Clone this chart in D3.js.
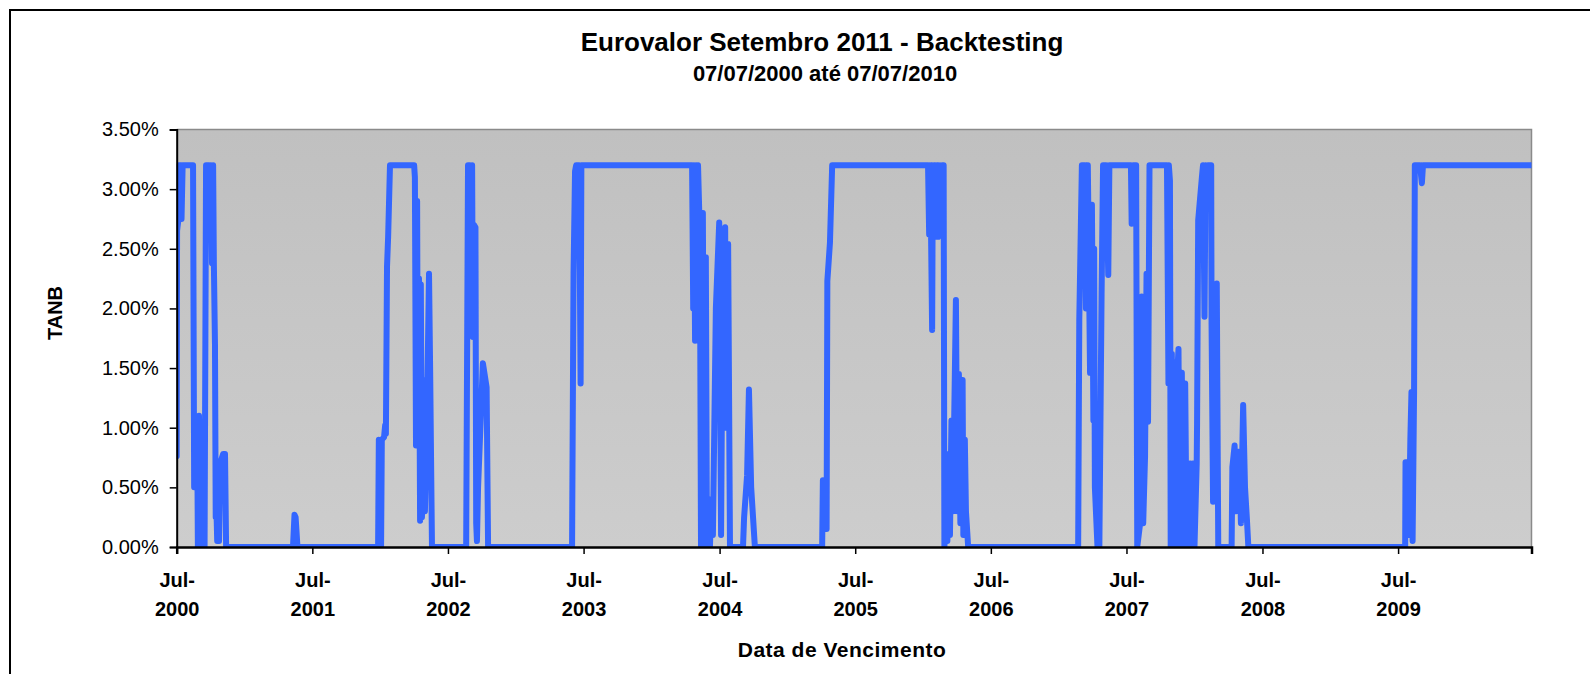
<!DOCTYPE html>
<html>
<head>
<meta charset="utf-8">
<script src="https://cdn.jsdelivr.net/npm/d3@7"></script>
<style>
  body { margin: 0; background: #fff; }
  text { font-family: "Liberation Sans", Arial, sans-serif; }
</style>
</head>
<body>
<svg id="chart" width="1590" height="674"></svg>
<script>
const title = "Eurovalor Setembro 2011 - Backtesting";
const subtitle = "07/07/2000 até 07/07/2010";

// x domain of the maturity axis
const startDate = "2000-07-07";
const endDate = "2010-07-01";

const tickYears = [2000, 2001, 2002, 2003, 2004, 2005, 2006, 2007, 2008, 2009];
const yTicks = [0, 0.5, 1, 1.5, 2, 2.5, 3, 3.5];

// TANB (%) by maturity date
const dates = [
  "2000-07-07","2000-07-08","2000-07-11","2000-07-13","2000-07-19","2000-07-20","2000-07-23","2000-08-20",
  "2000-08-23","2000-08-25","2000-08-28","2000-08-31","2000-09-02","2000-09-05","2000-09-08","2000-09-10",
  "2000-09-20","2000-09-24","2000-10-02","2000-10-05","2000-10-07","2000-10-10","2000-10-13","2000-10-15",
  "2000-10-18","2000-10-20","2000-10-22","2000-10-24","2000-10-26","2000-10-29","2000-11-01","2000-11-09",
  "2000-11-14","2000-11-17",
  "2001-05-16","2001-05-20","2001-05-23","2001-05-28",
  "2001-12-31","2002-01-02","2002-01-05","2002-01-08","2002-01-10","2002-01-16","2002-01-19","2002-01-21",
  "2002-01-24","2002-01-27","2002-02-01","2002-04-07","2002-04-09","2002-04-12","2002-04-15","2002-04-17",
  "2002-04-20","2002-04-23","2002-04-25","2002-04-28","2002-05-04","2002-05-06","2002-05-12","2002-05-17",
  "2002-05-20","2002-05-25",
  "2002-08-25","2002-08-30","2002-09-04","2002-09-07","2002-09-10","2002-09-12","2002-09-15","2002-09-19",
  "2002-09-21","2002-09-23","2002-09-26","2002-10-09","2002-10-19","2002-10-23",
  "2003-06-06","2003-06-10","2003-06-14","2003-06-17","2003-06-25","2003-06-29","2003-07-01",
  "2004-04-24","2004-04-27","2004-04-29","2004-05-02","2004-05-05","2004-05-07","2004-05-10","2004-05-15",
  "2004-05-18","2004-05-23","2004-05-26","2004-05-31","2004-06-03","2004-06-11","2004-06-15","2004-06-19",
  "2004-06-27","2004-07-06","2004-07-11","2004-07-16","2004-07-22","2004-07-24","2004-07-30","2004-08-04",
  "2004-09-08","2004-09-11","2004-09-19","2004-09-24","2004-09-30","2004-10-10",
  "2005-04-09","2005-04-11","2005-04-18","2005-04-21","2005-04-23","2005-04-30","2005-05-06",
  "2006-01-19","2006-01-22","2006-01-24","2006-01-27","2006-01-30","2006-02-01","2006-02-07","2006-02-09",
  "2006-02-15","2006-02-17","2006-02-23","2006-02-26","2006-03-02","2006-03-04","2006-03-10","2006-03-12",
  "2006-03-15","2006-03-19","2006-03-23","2006-03-27","2006-03-30","2006-04-04","2006-04-08","2006-04-12",
  "2006-04-16","2006-04-22","2006-04-24","2006-04-28","2006-05-01","2006-05-07",
  "2007-02-27","2007-03-02","2007-03-09","2007-03-17","2007-03-20","2007-03-25","2007-03-31","2007-04-05",
  "2007-04-09","2007-04-11","2007-04-13","2007-04-20","2007-04-25","2007-05-01","2007-05-05","2007-05-13",
  "2007-05-19","2007-05-22","2007-07-19","2007-07-21","2007-07-25","2007-08-02","2007-08-05","2007-08-12",
  "2007-08-17","2007-08-21","2007-08-26","2007-08-30","2007-09-03","2007-09-07","2007-10-24","2007-10-28",
  "2007-10-29","2007-11-01","2007-11-03","2007-11-06","2007-11-09","2007-11-13","2007-11-16","2007-11-20",
  "2007-11-24","2007-11-27","2007-12-03","2007-12-06","2007-12-12","2007-12-16","2007-12-20","2007-12-25",
  "2007-12-29","2008-01-02","2008-01-06","2008-01-12","2008-01-13","2008-01-16","2008-01-26","2008-01-29",
  "2008-02-02","2008-02-05","2008-02-08","2008-02-11","2008-02-20","2008-02-21","2008-02-25","2008-03-01",
  "2008-03-06","2008-03-10",
  "2008-04-15","2008-04-17","2008-04-23","2008-04-27","2008-05-01","2008-05-06","2008-05-10","2008-05-16",
  "2008-05-21","2008-05-26","2008-05-30",
  "2009-07-26","2009-07-27","2009-08-03","2009-08-05","2009-08-09","2009-08-12","2009-08-15","2009-08-19",
  "2009-08-21","2009-09-04","2009-09-09","2009-09-12","2010-07-01"
];
const tanb = [
  0.76, 2.65, 2.73, 3.2, 3.2, 2.75, 3.2, 3.2,
  0.5, 1.09, 0.5, 1.05, 0, 1.1, 0.45, 0,
  0, 3.2, 3.2, 2.9, 3.2, 2.38, 3.2, 2.38,
  1.7, 0.25, 0.31, 0.05, 0.3, 0.05, 0.7, 0.78,
  0.78, 0,
  0, 0.27, 0.25, 0,
  0, 0.9, 0.88, 0, 0.9, 0.92, 1.02, 0.95,
  2.35, 2.6, 3.2, 3.2, 3.1, 0.85, 2.9, 0.9,
  2.25, 0.22, 2.2, 0.25, 1.4, 0.3, 1.2, 2.29,
  1.5, 0,
  0, 3.2, 3.2, 1.8, 3.2, 1.76, 2.7, 2.68,
  0.2, 0.05, 0.5, 1.54, 1.34, 0,
  0, 2.3, 3.15, 3.2, 3.2, 1.37, 3.2,
  3.2, 2.0, 3.2, 1.73, 3.2, 2.5, 3.2, 2.6,
  0, 2.8, 0.5, 2.43, 0, 0, 0.4, 0.1,
  2.0, 2.72, 0.1, 2.5, 2.68, 1.0, 2.54, 0,
  0, 0.25, 0.6, 1.32, 0.5, 0,
  0, 0.56, 0.55, 0.15, 2.23, 2.55, 3.2,
  3.2, 2.62, 3.2, 2.65, 1.82, 3.2, 2.6, 3.2,
  2.6, 3.2, 2.62, 3.2, 3.2, 0, 0.42, 0.05,
  0.78, 0.1, 1.06, 0.3, 1.0, 2.07, 0.3, 1.45,
  0.2, 1.4, 0.1, 0.9, 0.3, 0,
  0, 1.9, 3.2, 3.2, 2.0, 3.2, 1.46, 2.87,
  1.06, 2.5, 0.5, 0, 0, 2.12, 3.2, 3.2,
  2.28, 3.2, 3.2, 2.71, 3.2, 3.2, 0, 0.18,
  2.1, 0.2, 0.76, 2.29, 1.05, 3.2, 3.2, 1.37,
  3.2, 3.07, 0, 1.62, 0, 1.55, 0, 1.4,
  1.66, 0, 1.46, 0, 1.37, 0, 0.4, 0.7,
  0, 0.7, 0, 0.7, 1.04, 2.74, 3.1, 3.2,
  1.93, 3.2, 2.85, 3.2, 3.2, 1.87, 0.38, 1.5,
  2.21, 0,
  0, 0.67, 0.85, 0.3, 0.8, 0.74, 0.2, 1.19,
  0.5, 0.24, 0,
  0, 0.71, 0.71, 0.1, 0.9, 1.3, 0.05, 1.3,
  3.2, 3.2, 3.05, 3.2, 3.2
];

const parse = d3.timeParse("%Y-%m-%d");
const series = dates.map((d, i) => ({ date: parse(d), value: tanb[i] }));

const svg = d3.select("#chart");
const width = 1590, height = 674;
const margin = { left: 176.7, right: width - 1531.5, top: 129.5, bottom: height - 547 };
const plotW = width - margin.left - margin.right;
const plotH = height - margin.top - margin.bottom;

svg.append("rect").attr("width", width).attr("height", height).attr("fill", "#fff");
svg.append("rect")
  .attr("x", 10).attr("y", 10).attr("width", 1620).attr("height", 700)
  .attr("fill", "none").attr("stroke", "#000").attr("stroke-width", 2);

const x = d3.scaleTime().domain([parse(startDate), parse(endDate)]).range([0, plotW]);
const y = d3.scaleLinear().domain([0, 3.5]).range([plotH, 0]);

const defs = svg.append("defs");
const grad = defs.append("linearGradient").attr("id", "bg").attr("x1", 0).attr("y1", 0).attr("x2", 0).attr("y2", 1);
grad.append("stop").attr("offset", "0%").attr("stop-color", "#c0c0c0");
grad.append("stop").attr("offset", "100%").attr("stop-color", "#cdcdcd");
defs.append("clipPath").attr("id", "clip")
  .append("rect").attr("width", plotW).attr("height", plotH);

const g = svg.append("g").attr("transform", `translate(${margin.left},${margin.top})`);

g.append("rect").attr("width", plotW).attr("height", plotH).attr("fill", "url(#bg)");
// gray frame on top and right
g.append("path")
  .attr("d", `M0,0H${plotW}V${plotH}`)
  .attr("fill", "none").attr("stroke", "#8a8a8a").attr("stroke-width", 1.5);

const line = d3.line()
  .x(d => x(d.date))
  .y(d => y(d.value));

g.append("path")
  .datum(series)
  .attr("clip-path", "url(#clip)")
  .attr("d", line)
  .attr("fill", "none")
  .attr("stroke", "#3366ff")
  .attr("stroke-width", 6)
  .attr("stroke-linejoin", "round")
  .attr("stroke-linecap", "round");

// y axis
const yAxis = g.append("g")
  .call(d3.axisLeft(y).tickValues(yTicks).tickSize(7).tickPadding(11)
    .tickFormat(d => d.toFixed(2) + "%"));
yAxis.select(".domain").attr("stroke", "#000").attr("stroke-width", 2);
yAxis.selectAll(".tick line").attr("stroke", "#000").attr("stroke-width", 1.5);
yAxis.selectAll(".tick text")
  .attr("font-size", 20).attr("fill", "#000")
  .attr("font-family", "Liberation Sans, Arial, sans-serif");

// x axis
const xAxis = g.append("g")
  .attr("transform", `translate(0,${plotH})`)
  .call(d3.axisBottom(x).tickValues(tickYears.map(yr => parse(yr + "-07-07"))).tickSize(7).tickFormat(""));
xAxis.select(".domain").attr("stroke", "#000").attr("stroke-width", 2.5);
xAxis.selectAll(".tick line").attr("stroke", "#000").attr("stroke-width", 1.5);

const xLabels = xAxis.selectAll(".tick").append("text")
  .attr("fill", "#000")
  .attr("font-size", 20)
  .attr("font-weight", "bold")
  .attr("text-anchor", "middle")
  .attr("font-family", "Liberation Sans, Arial, sans-serif");
xLabels.append("tspan").attr("x", 0).attr("y", 40).text("Jul-");
xLabels.append("tspan").attr("x", 0).attr("y", 69).text((d, i) => tickYears[i]);

// titles
svg.append("text")
  .attr("x", 822).attr("y", 51)
  .attr("text-anchor", "middle").attr("font-size", 26).attr("font-weight", "bold")
  .text(title);
svg.append("text")
  .attr("x", 825).attr("y", 81)
  .attr("text-anchor", "middle").attr("font-size", 22).attr("font-weight", "bold")
  .text(subtitle);

svg.append("text")
  .attr("transform", "translate(62,313) rotate(-90)")
  .attr("text-anchor", "middle").attr("font-size", 20).attr("font-weight", "bold")
  .text("TANB");

svg.append("text")
  .attr("x", 842).attr("y", 657)
  .attr("text-anchor", "middle").attr("font-size", 21).attr("font-weight", "bold")
  .attr("letter-spacing", 0.5)
  .text("Data de Vencimento");
</script>
</body>
</html>
